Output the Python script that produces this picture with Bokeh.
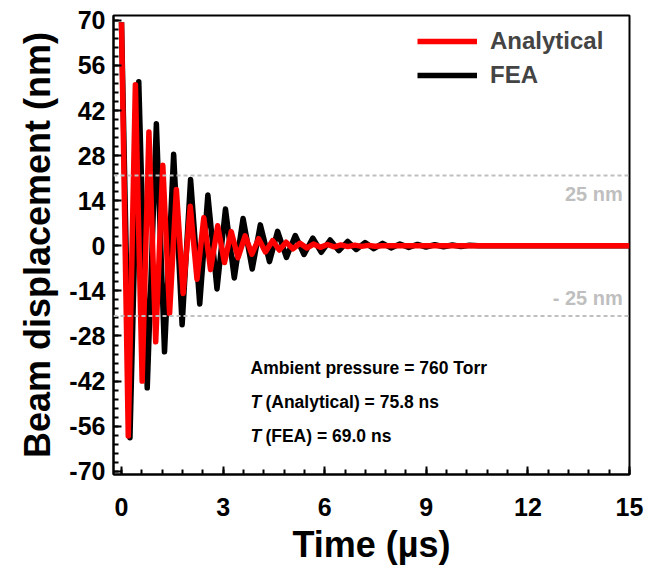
from bokeh.plotting import figure
from bokeh.models import Span, Label, Legend, LegendItem, FixedTicker, Range1d
from bokeh.embed import file_html
from bokeh.resources import INLINE

# ---- data (extrema of the damped oscillations) ----
analytical_t = [0, 0.20, 0.41, 0.61, 0.81, 1.01, 1.22, 1.42, 1.62, 1.82,
                2.03, 2.23, 2.43, 2.63, 2.84, 3.04, 3.24, 3.44, 3.65, 3.85,
                4.05, 4.25, 4.46, 4.66, 4.86, 5.06, 5.27, 5.47, 5.67, 5.87,
                6.08, 6.28, 6.48, 6.68, 6.89, 7.09, 7.29, 7.49, 7.70, 15.0]
analytical_y = [69.4, -59.0, 50.0, -42.0, 35.3, -29.8, 25.0, -21.0, 17.5, -14.8,
                12.3, -10.4, 8.7, -7.4, 6.2, -5.2, 4.4, -3.7, 3.1, -2.6,
                2.2, -1.9, 1.6, -1.3, 1.1, -0.95, 0.8, -0.7, 0.55, -0.47,
                0.4, -0.33, 0.28, -0.24, 0.2, -0.17, 0.14, -0.12, 0.0, 0.0]

fea_t = [0, 0.25, 0.51, 0.76, 1.03, 1.27, 1.54, 1.79, 2.04, 2.31,
         2.55, 2.82, 3.07, 3.33, 3.59, 3.86, 4.10, 4.37, 4.61, 4.87,
         5.13, 5.39, 5.65, 5.90, 6.16, 6.42, 6.68, 6.93, 7.19, 7.45,
         7.71, 7.96, 8.22, 8.48, 8.74, 8.99, 9.25, 9.51, 9.77, 10.02,
         10.28, 10.54, 15.0]
fea_y = [69.4, -59.6, 50.9, -44.1, 37.9, -32.9, 28.4, -24.5, 20.6, -18.1,
         15.8, -13.4, 11.4, -10.0, 8.5, -7.2, 6.5, -4.9, 4.5, -3.6,
         3.2, -2.7, 2.4, -2.0, 1.8, -1.5, 1.35, -1.15, 1.0, -0.87,
         0.76, -0.65, 0.57, -0.49, 0.43, -0.37, 0.32, -0.28, 0.24, -0.21,
         0.18, 0.0, 0.0]

x_ticks = [0, 3, 6, 9, 12, 15]
y_ticks = [-70, -56, -42, -28, -14, 0, 14, 28, 42, 56, 70]
threshold_levels = [21.8, -21.8]
threshold_labels = ["25 nm", "- 25 nm"]

FONT = "Liberation Sans"

p = figure(width=653, height=567, output_backend="svg", toolbar_location=None,
           x_range=Range1d(-0.236, 15), y_range=Range1d(-71.0, 71.5),
           min_border_left=113, min_border_right=24, min_border_top=15,
           min_border_bottom=92)
p.grid.visible = False
p.background_fill_color = "white"
p.border_fill_color = "white"
p.outline_line_color = "black"
p.outline_line_width = 2

r_fea = p.line(fea_t, fea_y, line_color="black", line_width=5.5, line_join="round")
r_ana = p.line(analytical_t, analytical_y, line_color="#ff0000", line_width=5.5, line_join="round")

for lvl in threshold_levels:
    p.add_layout(Span(location=lvl, dimension="width", line_color="#bfbfbf",
                      line_width=2, line_dash="4 3"))

p.add_layout(Label(x=14.8, y=threshold_levels[0], text=threshold_labels[0], text_align="right",
                   text_baseline="top", y_offset=-7, text_font=FONT, text_font_style="bold",
                   text_font_size="20px", text_color="#bfbfbf"))
p.add_layout(Label(x=14.8, y=threshold_levels[1], text=threshold_labels[1], text_align="right",
                   text_baseline="bottom", y_offset=7, text_font=FONT, text_font_style="bold",
                   text_font_size="20px", text_color="#bfbfbf"))

# annotation text block
ann_size = "17.5px"
p.add_layout(Label(x=3.81, y=-40.97, text="Ambient pressure = 760 Torr", text_font=FONT,
                   text_font_style="bold", text_font_size=ann_size, text_color="black"))
p.add_layout(Label(x=3.81, y=-51.5, text="T", text_font=FONT,
                   text_font_style="bold italic", text_font_size=ann_size, text_color="black"))
p.add_layout(Label(x=4.25, y=-51.5, text="(Analytical) = 75.8 ns", text_font=FONT,
                   text_font_style="bold", text_font_size=ann_size, text_color="black"))
p.add_layout(Label(x=3.81, y=-62.1, text="T", text_font=FONT,
                   text_font_style="bold italic", text_font_size=ann_size, text_color="black"))
p.add_layout(Label(x=4.25, y=-62.1, text="(FEA) = 69.0 ns", text_font=FONT,
                   text_font_style="bold", text_font_size=ann_size, text_color="black"))

# axes
xa = p.xaxis[0]
xa.ticker = FixedTicker(ticks=x_ticks, minor_ticks=[i * 0.6 for i in range(26)])
ya = p.yaxis[0]
ya.ticker = FixedTicker(ticks=y_ticks, minor_ticks=[-70 + i * 2.8 for i in range(51)])
ya.major_label_overrides = {t: str(t) for t in y_ticks}
for ax in (xa, ya):
    ax.axis_line_color = "black"
    ax.axis_line_width = 2
    ax.major_tick_in = 8
    ax.major_tick_out = 0
    ax.minor_tick_in = 5
    ax.minor_tick_out = 0
    ax.major_tick_line_width = 2
    ax.minor_tick_line_width = 2
    ax.major_label_text_font = FONT
    ax.major_label_text_font_style = "bold"
    ax.major_label_text_font_size = "25px"
    ax.major_label_text_color = "black"
    ax.axis_label_text_font = FONT
    ax.axis_label_text_font_style = "bold"
    ax.axis_label_text_font_size = "36px"
    ax.axis_label_text_color = "black"
xa.axis_label = "Time (\u00b5s)"
ya.axis_label = "Beam displacement (nm)"
xa.major_label_standoff = 23
ya.major_label_standoff = 8
xa.axis_label_standoff = 5
ya.axis_label_standoff = 8

legend = Legend(items=[LegendItem(label="Analytical", renderers=[r_ana]),
                       LegendItem(label="FEA", renderers=[r_fea])],
                location=(304, 385), orientation="vertical")
legend.label_text_font = FONT
legend.label_text_font_style = "bold"
legend.label_text_font_size = "24px"
legend.glyph_width = 60
legend.glyph_height = 26
legend.label_height = 26
legend.label_standoff = 13
legend.spacing = 6
legend.padding = 0
legend.margin = 0
legend.border_line_color = None
legend.background_fill_alpha = 0
p.add_layout(legend)

open("out.html", "w").write(file_html(p, INLINE))
